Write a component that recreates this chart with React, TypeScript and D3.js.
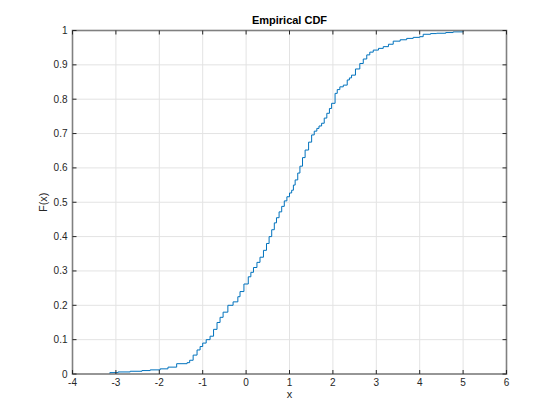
import React from "react";
import * as d3 from "d3";

const xTicks = [-4, -3, -2, -1, 0, 1, 2, 3, 4, 5, 6];
const yTicks = [0, 0.1, 0.2, 0.3, 0.4, 0.5, 0.6, 0.7, 0.8, 0.9, 1];
const yTickLabels = ["0", "0.1", "0.2", "0.3", "0.4", "0.5", "0.6", "0.7", "0.8", "0.9", "1"];

// Empirical CDF breakpoints
const xs = [-3.14, -2.95, -2.67, -2.4, -2.21, -1.98, -1.8, -1.6, -1.36, -1.3, -1.22, -1.13, -1.06, -1.0, -0.92, -0.83, -0.75, -0.67, -0.6, -0.53, -0.42, -0.3, -0.19, -0.14, -0.05, 0.05, 0.11, 0.17, 0.25, 0.32, 0.4, 0.47, 0.53, 0.59, 0.65, 0.7, 0.76, 0.82, 0.88, 0.94, 1.0, 1.05, 1.09, 1.13, 1.19, 1.24, 1.3, 1.36, 1.44, 1.51, 1.57, 1.63, 1.68, 1.74, 1.8, 1.86, 1.92, 1.97, 2.05, 2.1, 2.16, 2.24, 2.33, 2.38, 2.43, 2.52, 2.62, 2.7, 2.78, 2.85, 2.93, 3.05, 3.16, 3.28, 3.39, 3.55, 3.7, 3.85, 4.0, 4.08, 4.25, 4.39, 4.6, 4.77, 5.0];
const Fs = [0.004, 0.006, 0.008, 0.01, 0.012, 0.015, 0.02, 0.03, 0.033, 0.04, 0.055, 0.07, 0.08, 0.09, 0.1, 0.11, 0.13, 0.15, 0.165, 0.18, 0.2, 0.21, 0.225, 0.24, 0.262, 0.283, 0.296, 0.31, 0.325, 0.34, 0.36, 0.38, 0.4, 0.42, 0.44, 0.455, 0.472, 0.488, 0.504, 0.516, 0.527, 0.535, 0.55, 0.565, 0.585, 0.605, 0.63, 0.652, 0.675, 0.696, 0.707, 0.715, 0.722, 0.73, 0.745, 0.759, 0.773, 0.788, 0.817, 0.828, 0.836, 0.841, 0.856, 0.862, 0.87, 0.888, 0.904, 0.917, 0.929, 0.937, 0.943, 0.948, 0.953, 0.96, 0.969, 0.973, 0.977, 0.98, 0.982, 0.989, 0.991, 0.992, 0.994, 0.996, 1.0];

export default function App() {
  const W = 560, H = 420;
  const x = d3.scaleLinear().domain([-4, 6]).range([72.5, 506.5]);
  const y = d3.scaleLinear().domain([0, 1]).range([374, 30.5]);
  const pts: [number, number][] = [[xs[0], 0], ...xs.map((v, i) => [v, Fs[i]] as [number, number])];
  const line = d3.line<[number, number]>().x(d => x(d[0])).y(d => y(d[1])).curve(d3.curveStepAfter);
  const path = line(pts) || "";
  const font = "'Liberation Sans', Arial, Helvetica, sans-serif";
  const tc = "#262626";
  return (
    <svg width={W} height={H} style={{ position: "absolute", left: 0, top: 0, background: "#fff" }} fontFamily={font}>
      <rect x={0} y={0} width={W} height={H} fill="#fff" />
      {xTicks.map(t => (
        <line key={"gx" + t} x1={x(t)} x2={x(t)} y1={y(0)} y2={y(1)} stroke="#e3e3e3" strokeWidth={1} />
      ))}
      {yTicks.map(t => (
        <line key={"gy" + t} x1={x(-4)} x2={x(6)} y1={y(t)} y2={y(t)} stroke="#e3e3e3" strokeWidth={1} />
      ))}
      <path d={path} fill="none" stroke="#0072BD" strokeWidth={1} />
      <rect x={x(-4)} y={y(1)} width={x(6) - x(-4)} height={y(0) - y(1)} fill="none" stroke="#808080" strokeWidth={1.6} />
      {xTicks.map(t => (
        <g key={"tx" + t}>
          <line x1={x(t)} x2={x(t)} y1={y(0)} y2={y(0) - 4} stroke={tc} strokeWidth={1} />
          <line x1={x(t)} x2={x(t)} y1={y(1)} y2={y(1) + 4} stroke={tc} strokeWidth={1} />
          <text x={x(t)} y={y(0) + 12} fontSize={10} fill={tc} textAnchor="middle">{String(t)}</text>
        </g>
      ))}
      {yTicks.map((t, i) => (
        <g key={"ty" + t}>
          <line x1={x(-4)} x2={x(-4) + 4} y1={y(t)} y2={y(t)} stroke={tc} strokeWidth={1} />
          <line x1={x(6)} x2={x(6) - 4} y1={y(t)} y2={y(t)} stroke={tc} strokeWidth={1} />
          <text x={x(-4) - 5} y={y(t) + 3.5} fontSize={10} fill={tc} textAnchor="end">{yTickLabels[i]}</text>
        </g>
      ))}
      <text x={(x(-4) + x(6)) / 2} y={24} fontSize={11} fontWeight="bold" fill="#000" textAnchor="middle">Empirical CDF</text>
      <text x={(x(-4) + x(6)) / 2} y={398} fontSize={11} fill={tc} textAnchor="middle">x</text>
      <text transform={`translate(${47},${y(0.5)}) rotate(-90)`} fontSize={11} fill={tc} textAnchor="middle">F(x)</text>
    </svg>
  );
}
